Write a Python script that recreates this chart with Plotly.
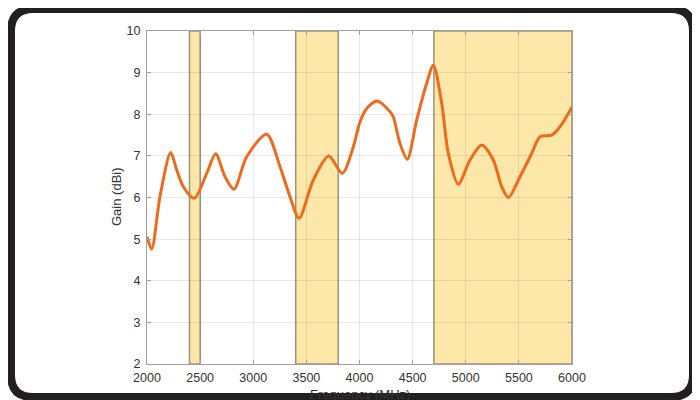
import plotly.graph_objects as go

# ---- data ----
freq_mhz = [2000, 2044, 2122, 2223, 2280, 2342, 2445, 2562, 2646, 2734, 2819, 2938,
            3126, 3252, 3346, 3431, 3565, 3710, 3838, 3942, 4005, 4068, 4168, 4287,
            4318, 4381, 4450, 4538, 4632, 4695, 4774, 4836, 4930, 5040, 5150, 5259,
            5338, 5401, 5511, 5621, 5699, 5809, 5887, 6000]
gain_dbi = [5.06, 4.76, 6.02, 7.08, 6.66, 6.26, 5.98, 6.58, 7.05, 6.50, 6.20, 6.98,
            7.52, 6.74, 6.02, 5.50, 6.42, 7.00, 6.58, 7.22, 7.82, 8.14, 8.32, 8.06,
            7.94, 7.30, 6.92, 7.86, 8.74, 9.18, 8.26, 7.06, 6.32, 6.90, 7.26, 6.90,
            6.26, 6.00, 6.50, 7.06, 7.46, 7.50, 7.70, 8.17]
band_starts = [2400, 3400, 4700]
band_ends = [2500, 3800, 6000]
x_ticks = [2000, 2500, 3000, 3500, 4000, 4500, 5000, 5500, 6000]
y_ticks = [2, 3, 4, 5, 6, 7, 8, 9, 10]

OFF = 8  # page body margin
W, H = 700 - OFF, 400 - OFF
L, R, T, B = 147 - OFF, 572 - OFF, 31 - OFF, 364 - OFF


def px(x):
    return (x - OFF - L) / (R - L)


def py(y):
    return (B - (y - OFF)) / (B - T)


fig = go.Figure()

fig.add_trace(go.Scatter(
    x=freq_mhz, y=gain_dbi, mode="lines",
    line=dict(color="#EE6A1C", width=3, shape="spline", smoothing=0.8),
    showlegend=False, hoverinfo="skip"))

shapes = []
for s, e in zip(band_starts, band_ends):
    shapes.append(dict(type="rect", xref="x", yref="y", x0=s, x1=e, y0=2, y1=10,
                       fillcolor="#FDE8AA", line=dict(color="#9C9474", width=1.5),
                       layer="below"))

# outer rounded frame (page pixel coordinates)
x0, x1, y0, y1, r = 11, 693, 9, 397, 22
path = (f"M {px(x0 + r)},{py(y0)} L {px(x1 - r)},{py(y0)} "
        f"Q {px(x1)},{py(y0)} {px(x1)},{py(y0 + r)} "
        f"L {px(x1)},{py(y1 - r)} Q {px(x1)},{py(y1)} {px(x1 - r)},{py(y1)} "
        f"L {px(x0 + r)},{py(y1)} Q {px(x0)},{py(y1)} {px(x0)},{py(y1 - r)} "
        f"L {px(x0)},{py(y0 + r)} Q {px(x0)},{py(y0)} {px(x0 + r)},{py(y0)} Z")
shapes.append(dict(type="path", xref="paper", yref="paper", path=path,
                   line=dict(color="#231F20", width=8), layer="above"))

axis_common = dict(showline=True, linecolor="#A0A0A0", linewidth=1, mirror="ticks",
                   ticks="inside", ticklen=4, tickcolor="#A0A0A0",
                   showgrid=True, gridcolor="rgba(0,0,0,0.09)", gridwidth=1,
                   zeroline=False, tickfont=dict(family="Liberation Sans, Arial", size=12.5,
                                                 color="#333333"))

fig.update_xaxes(range=[2000, 6000], tickvals=x_ticks,
                 ticktext=[str(v) for v in x_ticks], ticklabelstandoff=2, **axis_common)
fig.update_yaxes(range=[2, 10], tickvals=y_ticks,
                 ticktext=[str(v) for v in y_ticks], ticklabelstandoff=3, **axis_common)

fig.update_layout(
    width=W, height=H, autosize=False,
    margin=dict(l=L, r=W - R, t=T, b=H - B, pad=0),
    paper_bgcolor="white", plot_bgcolor="white",
    shapes=shapes,
    annotations=[
        dict(text="Gain (dBi)", xref="paper", yref="paper", x=px(116), y=py(197),
             showarrow=False, textangle=-90, xanchor="center", yanchor="middle",
             font=dict(family="Liberation Sans, Arial", size=13, color="#333333")),
        dict(text="Frequency (MHz)", xref="paper", yref="paper", x=px(360), y=py(385),
             showarrow=False, xanchor="center", yanchor="top",
             font=dict(family="Liberation Sans, Arial", size=13, color="#333333")),
    ],
)

fig.write_html("out.html")
